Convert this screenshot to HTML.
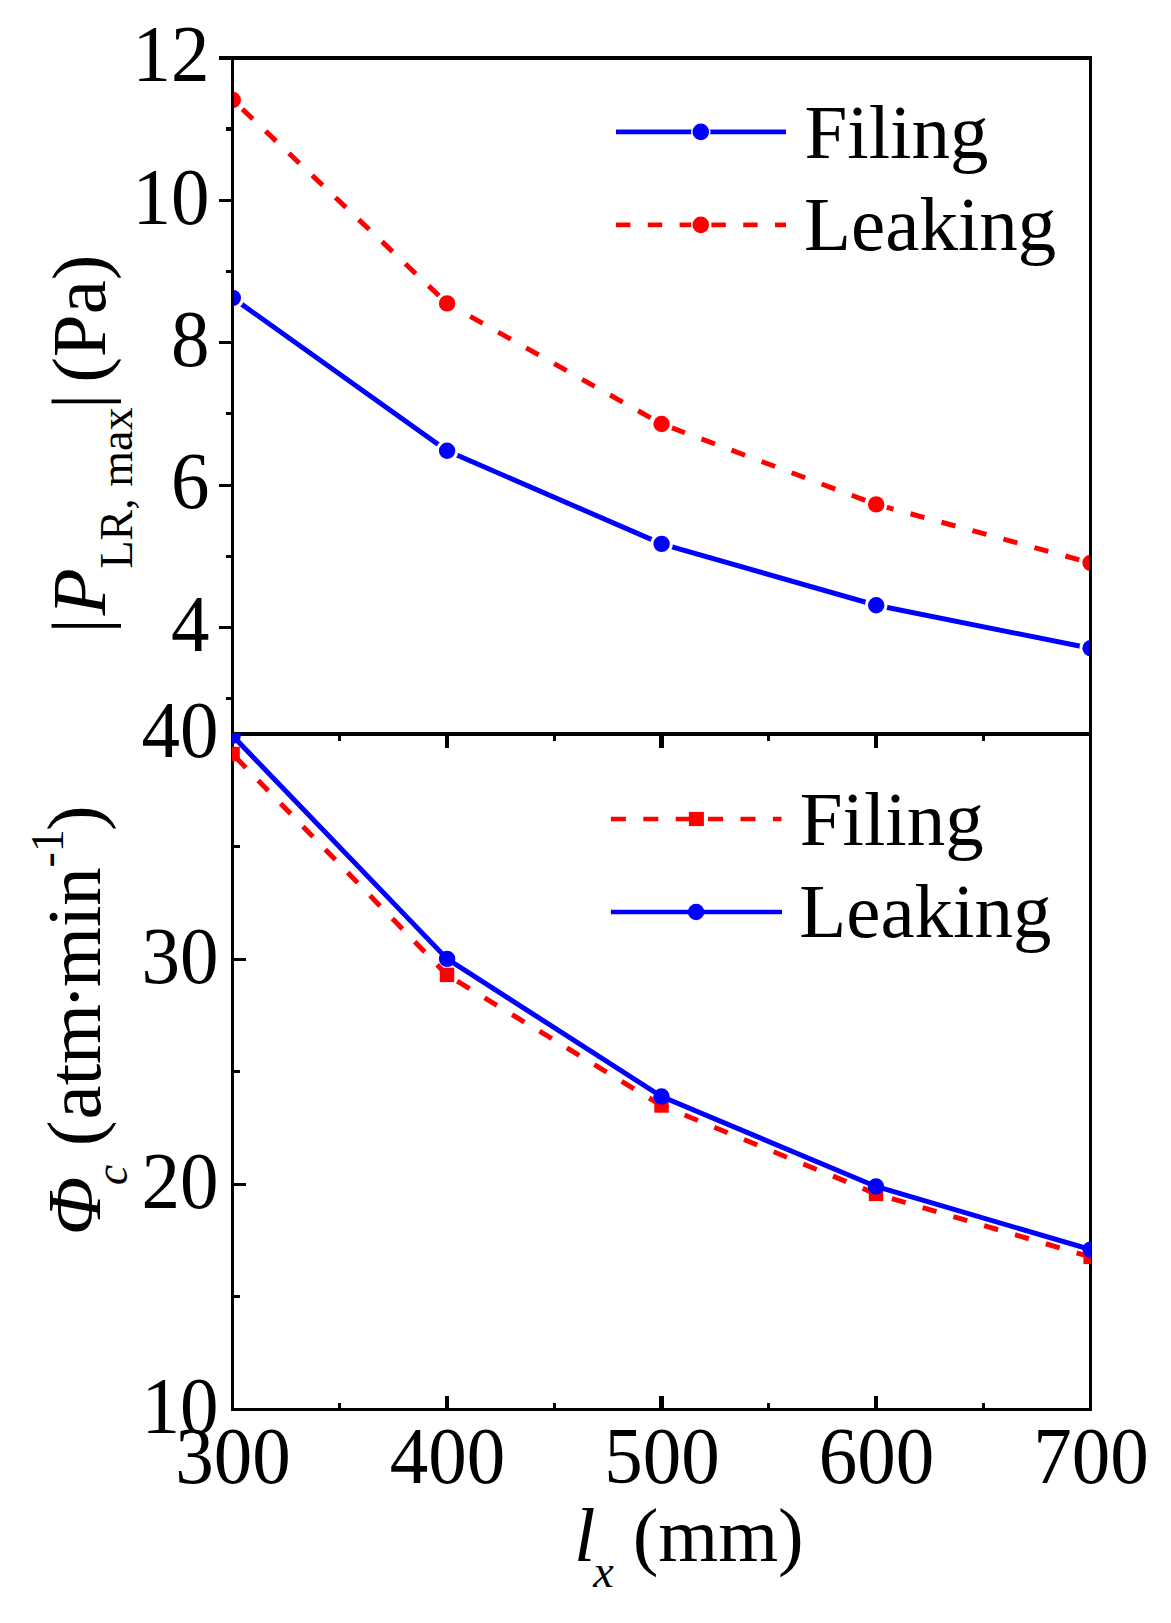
<!DOCTYPE html>
<html lang="en"><head><meta charset="utf-8"><title>Chart</title>
<style>html,body{margin:0;padding:0;background:#fff;}svg{display:block;}text{font-family:"Liberation Serif", serif;fill:#000;}.i{font-style:italic;}</style></head><body>
<svg width="1171" height="1623" viewBox="0 0 1171 1623">
<rect x="0" y="0" width="1171" height="1623" fill="#fff"/>
<defs>
<clipPath id="c1"><rect x="232" y="58" width="859" height="676"/></clipPath>
<clipPath id="c2"><rect x="232" y="733" width="859" height="677"/></clipPath>
</defs>
<g clip-path="url(#c1)">
<polyline points="232.8,297.9 447.1,450.8 661.6,543.9 876.2,605.2 1090.6,648.3" fill="none" stroke="#0000ff" stroke-width="5"/>
<circle cx="232.8" cy="297.9" r="11.2" fill="#fff"/>
<circle cx="447.1" cy="450.8" r="11.2" fill="#fff"/>
<circle cx="661.6" cy="543.9" r="11.2" fill="#fff"/>
<circle cx="876.2" cy="605.2" r="11.2" fill="#fff"/>
<circle cx="1090.6" cy="648.3" r="11.2" fill="#fff"/>
<circle cx="232.8" cy="297.9" r="8.2" fill="#0000ff"/>
<circle cx="447.1" cy="450.8" r="8.2" fill="#0000ff"/>
<circle cx="661.6" cy="543.9" r="8.2" fill="#0000ff"/>
<circle cx="876.2" cy="605.2" r="8.2" fill="#0000ff"/>
<circle cx="1090.6" cy="648.3" r="8.2" fill="#0000ff"/>
<line x1="232.8" y1="100.0" x2="447.1" y2="303.4" stroke="#ff0000" stroke-width="5" stroke-dasharray="14.4 17.7" stroke-dashoffset="51.0"/>
<line x1="447.1" y1="303.4" x2="661.6" y2="424.0" stroke="#ff0000" stroke-width="5" stroke-dasharray="14.4 17.7" stroke-dashoffset="37.7"/>
<line x1="661.6" y1="424.0" x2="876.2" y2="504.4" stroke="#ff0000" stroke-width="5" stroke-dasharray="14.4 17.7" stroke-dashoffset="53.7"/>
<line x1="876.2" y1="504.4" x2="1090.6" y2="562.9" stroke="#ff0000" stroke-width="5" stroke-dasharray="14.4 17.7" stroke-dashoffset="60.7"/>
<circle cx="232.8" cy="100.0" r="11.2" fill="#fff"/>
<circle cx="447.1" cy="303.4" r="11.2" fill="#fff"/>
<circle cx="661.6" cy="424.0" r="11.2" fill="#fff"/>
<circle cx="876.2" cy="504.4" r="11.2" fill="#fff"/>
<circle cx="1090.6" cy="562.9" r="11.2" fill="#fff"/>
<circle cx="232.8" cy="100.0" r="8.2" fill="#ff0000"/>
<circle cx="447.1" cy="303.4" r="8.2" fill="#ff0000"/>
<circle cx="661.6" cy="424.0" r="8.2" fill="#ff0000"/>
<circle cx="876.2" cy="504.4" r="8.2" fill="#ff0000"/>
<circle cx="1090.6" cy="562.9" r="8.2" fill="#ff0000"/>
</g>
<rect x="231.10" y="56.00" width="2.90" height="1354.90" fill="#000" shape-rendering="crispEdges"/>
<rect x="1089.00" y="56.00" width="3.00" height="1354.90" fill="#000" shape-rendering="crispEdges"/>
<rect x="219.00" y="55.90" width="873.00" height="4.20" fill="#000" shape-rendering="crispEdges"/>
<rect x="234.00" y="731.90" width="855.00" height="4.10" fill="#000" shape-rendering="crispEdges"/>
<rect x="231.10" y="1408.00" width="860.90" height="2.90" fill="#000" shape-rendering="crispEdges"/>
<rect x="219.00" y="198.70" width="12.50" height="3.00" fill="#000" shape-rendering="crispEdges"/>
<rect x="219.00" y="341.10" width="12.50" height="3.00" fill="#000" shape-rendering="crispEdges"/>
<rect x="219.00" y="483.50" width="12.50" height="3.00" fill="#000" shape-rendering="crispEdges"/>
<rect x="219.00" y="625.90" width="12.50" height="3.00" fill="#000" shape-rendering="crispEdges"/>
<rect x="226.00" y="127.40" width="5.50" height="3.20" fill="#000" shape-rendering="crispEdges"/>
<rect x="226.00" y="269.80" width="5.50" height="3.20" fill="#000" shape-rendering="crispEdges"/>
<rect x="226.00" y="412.20" width="5.50" height="3.20" fill="#000" shape-rendering="crispEdges"/>
<rect x="226.00" y="554.60" width="5.50" height="3.20" fill="#000" shape-rendering="crispEdges"/>
<rect x="226.00" y="697.00" width="5.50" height="3.20" fill="#000" shape-rendering="crispEdges"/>
<rect x="233.50" y="957.63" width="12.50" height="3.00" fill="#000" shape-rendering="crispEdges"/>
<rect x="233.50" y="1182.77" width="12.50" height="3.00" fill="#000" shape-rendering="crispEdges"/>
<rect x="233.50" y="845.07" width="6.50" height="3.00" fill="#000" shape-rendering="crispEdges"/>
<rect x="233.50" y="1070.20" width="6.50" height="3.00" fill="#000" shape-rendering="crispEdges"/>
<rect x="233.50" y="1295.33" width="6.50" height="3.00" fill="#000" shape-rendering="crispEdges"/>
<rect x="444.90" y="735.00" width="4.10" height="13.10" fill="#000" shape-rendering="crispEdges"/>
<rect x="659.40" y="735.00" width="4.10" height="13.10" fill="#000" shape-rendering="crispEdges"/>
<rect x="873.90" y="735.00" width="4.10" height="13.10" fill="#000" shape-rendering="crispEdges"/>
<rect x="338.35" y="735.00" width="3.05" height="6.00" fill="#000" shape-rendering="crispEdges"/>
<rect x="552.85" y="735.00" width="3.05" height="6.00" fill="#000" shape-rendering="crispEdges"/>
<rect x="767.35" y="735.00" width="3.05" height="6.00" fill="#000" shape-rendering="crispEdges"/>
<rect x="981.85" y="735.00" width="3.05" height="6.00" fill="#000" shape-rendering="crispEdges"/>
<rect x="444.90" y="1396.00" width="4.10" height="12.50" fill="#000" shape-rendering="crispEdges"/>
<rect x="659.40" y="1396.00" width="4.10" height="12.50" fill="#000" shape-rendering="crispEdges"/>
<rect x="873.90" y="1396.00" width="4.10" height="12.50" fill="#000" shape-rendering="crispEdges"/>
<rect x="338.35" y="1403.00" width="3.00" height="5.50" fill="#000" shape-rendering="crispEdges"/>
<rect x="552.85" y="1403.00" width="3.00" height="5.50" fill="#000" shape-rendering="crispEdges"/>
<rect x="767.35" y="1403.00" width="3.00" height="5.50" fill="#000" shape-rendering="crispEdges"/>
<rect x="981.85" y="1403.00" width="3.00" height="5.50" fill="#000" shape-rendering="crispEdges"/>
<g clip-path="url(#c2)">
<line x1="232.6" y1="754.0" x2="447.0" y2="974.9" stroke="#ff0000" stroke-width="5" stroke-dasharray="14.4 17.7" stroke-dashoffset="59.5"/>
<line x1="447.0" y1="974.9" x2="661.5" y2="1105.5" stroke="#ff0000" stroke-width="5" stroke-dasharray="14.4 17.7" stroke-dashoffset="52.2"/>
<line x1="661.5" y1="1105.5" x2="876.0" y2="1193.9" stroke="#ff0000" stroke-width="5" stroke-dasharray="14.4 17.7" stroke-dashoffset="39.2"/>
<line x1="876.0" y1="1193.9" x2="1090.6" y2="1256.9" stroke="#ff0000" stroke-width="5" stroke-dasharray="14.4 17.7" stroke-dashoffset="47.7"/>
<rect x="225.4" y="746.8" width="14.4" height="14.4" fill="#ff0000"/>
<rect x="439.8" y="967.7" width="14.4" height="14.4" fill="#ff0000"/>
<rect x="654.3" y="1098.3" width="14.4" height="14.4" fill="#ff0000"/>
<rect x="868.8" y="1186.7" width="14.4" height="14.4" fill="#ff0000"/>
<rect x="1083.4" y="1249.7" width="14.4" height="14.4" fill="#ff0000"/>
<polyline points="232.6,735.8 447.1,958.9 661.5,1096.5 876.0,1186.5 1090.6,1249.6" fill="none" stroke="#0000ff" stroke-width="5"/>
<circle cx="232.6" cy="735.8" r="8.2" fill="#0000ff"/>
<circle cx="447.1" cy="958.9" r="8.2" fill="#0000ff"/>
<circle cx="661.5" cy="1096.5" r="8.2" fill="#0000ff"/>
<circle cx="876.0" cy="1186.5" r="8.2" fill="#0000ff"/>
<circle cx="1090.6" cy="1249.6" r="8.2" fill="#0000ff"/>
</g>
<line x1="616" y1="131.8" x2="786" y2="131.8" stroke="#0000ff" stroke-width="4.7"/>
<circle cx="700.8" cy="131.9" r="9.8" fill="#fff"/>
<circle cx="700.8" cy="131.9" r="8.3" fill="#0000ff"/>
<line x1="616" y1="224.8" x2="786" y2="224.8" stroke="#ff0000" stroke-width="4.7" stroke-dasharray="14.4 17.4"/>
<circle cx="700.8" cy="224.9" r="9.8" fill="#fff"/>
<circle cx="700.8" cy="224.9" r="8.3" fill="#ff0000"/>
<text x="804.5" y="157.7" font-size="77">Filing</text>
<text x="804" y="249.8" font-size="77">Leaking</text>
<line x1="610.9" y1="819" x2="781.5" y2="819" stroke="#ff0000" stroke-width="4.7" stroke-dasharray="15 17.4"/>
<rect x="688.9" y="811.9" width="15" height="14.2" fill="#ff0000"/>
<line x1="610.9" y1="912" x2="782" y2="912" stroke="#0000ff" stroke-width="4.7"/>
<circle cx="696.1" cy="912" r="8.2" fill="#0000ff"/>
<text x="799.7" y="844.6" font-size="77">Filing</text>
<text x="799.2" y="937.4" font-size="77">Leaking</text>
<text transform="translate(209.5,81.2) scale(1,1.036)" font-size="77" text-anchor="end">12</text>
<text transform="translate(209.5,223.6) scale(1,1.036)" font-size="77" text-anchor="end">10</text>
<text transform="translate(209.5,366.0) scale(1,1.036)" font-size="77" text-anchor="end">8</text>
<text transform="translate(209.5,508.4) scale(1,1.036)" font-size="77" text-anchor="end">6</text>
<text transform="translate(209.5,650.8) scale(1,1.036)" font-size="77" text-anchor="end">4</text>
<text transform="translate(218.6,757.4) scale(1,1.036)" font-size="77" text-anchor="end">40</text>
<text transform="translate(218.6,982.5) scale(1,1.036)" font-size="77" text-anchor="end">30</text>
<text transform="translate(218.6,1207.7) scale(1,1.036)" font-size="77" text-anchor="end">20</text>
<text transform="translate(218.6,1432.8) scale(1,1.036)" font-size="77" text-anchor="end">10</text>
<text transform="translate(232.9,1483.3) scale(1,1.036)" font-size="77" text-anchor="middle">300</text>
<text transform="translate(447.4,1483.3) scale(1,1.036)" font-size="77" text-anchor="middle">400</text>
<text transform="translate(661.9,1483.3) scale(1,1.036)" font-size="77" text-anchor="middle">500</text>
<text transform="translate(876.4,1483.3) scale(1,1.036)" font-size="77" text-anchor="middle">600</text>
<text transform="translate(1090.9,1483.3) scale(1,1.036)" font-size="77" text-anchor="middle">700</text>
<text y="1560.6" font-size="77"><tspan class="i" x="574">l</tspan><tspan class="i" font-size="46" x="593.3" dy="26">x</tspan><tspan x="632.7" dy="-26">(mm)</tspan></text>
<text transform="translate(105.3,0) rotate(-90)" font-size="77"><tspan x="-633.45">|</tspan><tspan class="i" x="-615.35">P</tspan><tspan font-size="46" x="-568.5" dy="26.8">LR, max</tspan><tspan x="-409.1" dy="-26.8">|</tspan><tspan x="-382.8">(Pa)</tspan></text>
<text transform="translate(100.2,0) rotate(-90)" font-size="77"><tspan class="i" x="-1235.2">&#934;</tspan><tspan class="i" font-size="46" x="-1185.2" dy="26.7">c</tspan><tspan x="-1146.3" dy="-26.7">(</tspan><tspan x="-1119.5">atm</tspan><tspan x="-1009.5">&#183;</tspan><tspan x="-987">min</tspan><tspan font-size="46" x="-867.5" dy="-37.3">-1</tspan><tspan x="-831" dy="37.3">)</tspan></text>
</svg></body></html>
